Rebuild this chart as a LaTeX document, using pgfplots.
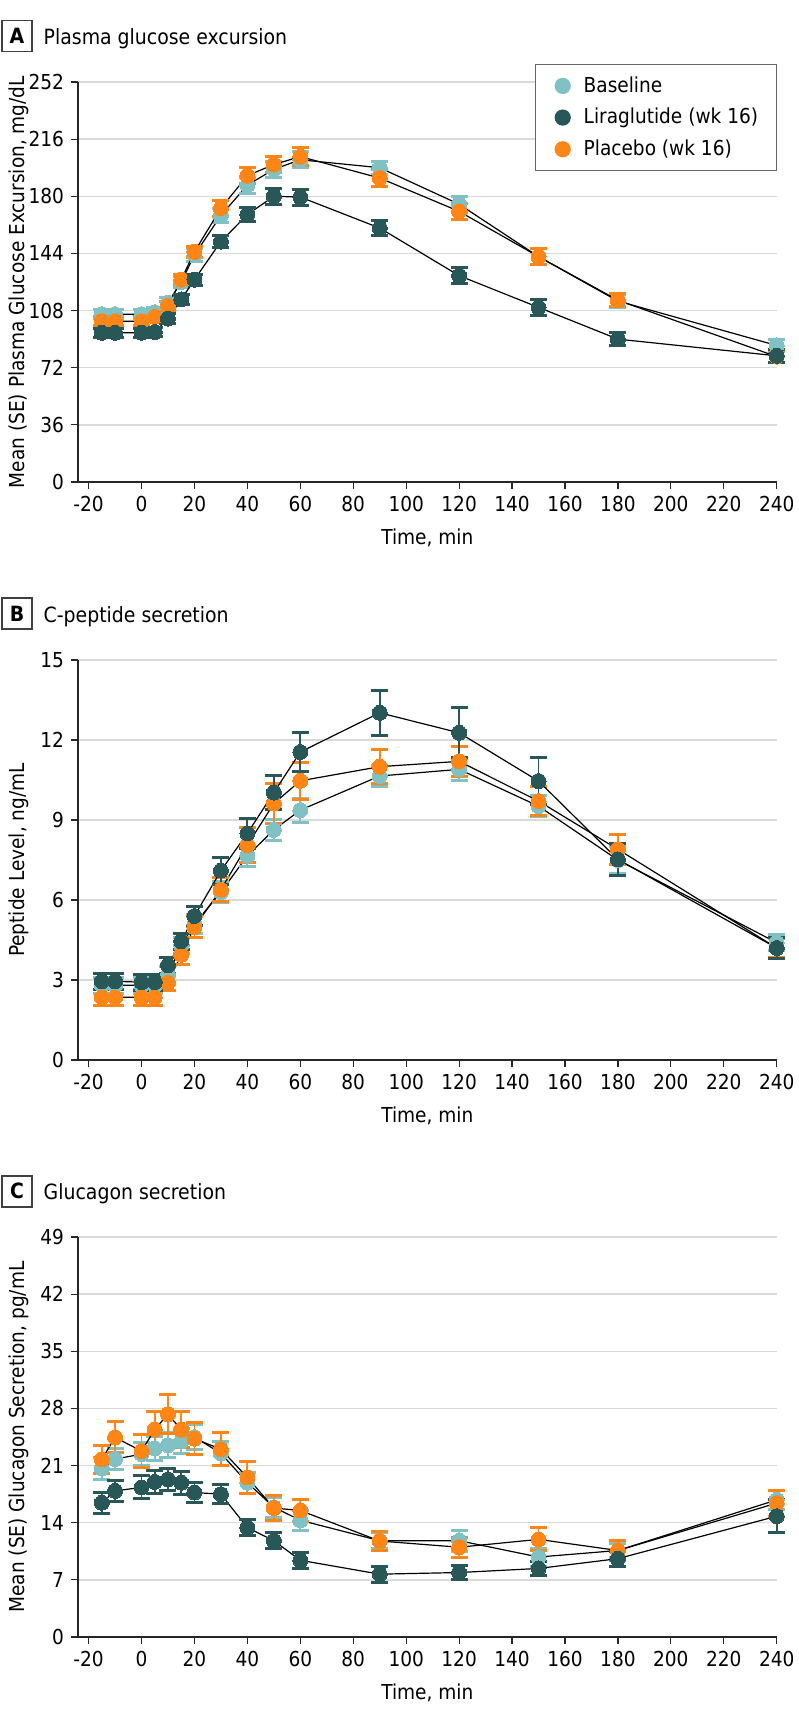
\documentclass[border=0pt]{standalone}
\usepackage{fontspec}
\setmainfont{DejaVu Sans Condensed}
\usepackage{pgfplots}
\pgfplotsset{compat=1.18}
\definecolor{cBase}{RGB}{128,194,196}
\definecolor{cLira}{RGB}{40,87,87}
\definecolor{cPlac}{RGB}{255,133,20}
\definecolor{gridgray}{RGB}{218,218,218}
\newcommand{\fs}{\fontsize{10.3pt}{12pt}\selectfont}
\newcommand{\ft}{\fontsize{10.5pt}{12.5pt}\selectfont}
\pgfplotsset{
 panel/.style={
  scale only axis, width=349.35pt, height=200pt,
  xmin=-24, xmax=240,
  axis x line*=bottom, axis y line*=left,
  axis line style={line width=0.6pt, color=black!85},
  xtick={-20,0,20,40,60,80,100,120,140,160,180,200,220,240},
  xticklabels={-20,0,20,40,60,80,100,120,140,160,180,200,220,240},
  tick align=outside, major tick length=3.5pt,
  tick style={line width=0.6pt, color=black!85},
  ymajorgrids, grid style={line width=0.75pt, color=gridgray},
  tick label style={font=\fs},
  label style={font=\fs},
  xlabel={Time, min},
  x label style={at={(axis description cs:0.5,-0.14)}, anchor=center},
  y label style={at={(axis description cs:-0.085,0.5)}, anchor=center},
  /pgf/number format/assume math mode=true,
  clip=false,
 },
 ser/.style={black, line width=0.6pt, mark=*, mark size=3.75pt,
  mark options={draw=#1, fill=#1, line width=0pt},
  error bars/y dir=both, error bars/y explicit,
  error bars/error bar style={#1, line width=0.9pt},
  error bars/error mark options={#1, rotate=90, mark size=4.25pt, line width=1.5pt},
  forget plot},
}
\begin{document}
\begin{tikzpicture}
\path[use as bounding box] (0,0) rectangle (399pt,-861pt);

% ---------------- Panel A
\begin{axis}[panel, at={(39pt,-241pt)}, anchor=south west,
  ymin=0, ymax=252, ytick={0,36,72,108,144,180,216,252},
  ylabel={Mean (SE) Plasma Glucose Excursion, mg/dL},
  legend style={at={(axis description cs:1.0,1.045)}, anchor=north east,
    draw=black!60, line width=0.6pt, fill=white, font=\fs, row sep=2.5pt,
    inner xsep=7pt, inner ysep=4pt},
  legend image code/.code={\draw[#1] plot coordinates {(6.5pt,0pt)}; \path[draw=none, fill=none] (0pt,0pt) (15pt,0pt);},
  legend cell align=left]
\addlegendimage{only marks, mark=*, mark size=3.75pt, mark options={draw=cBase, fill=cBase}}
\addlegendimage{only marks, mark=*, mark size=3.75pt, mark options={draw=cLira, fill=cLira}}
\addlegendimage{only marks, mark=*, mark size=3.75pt, mark options={draw=cPlac, fill=cPlac}}
\addplot[ser=cBase] table[y error=e] {
x y e
-15 105.7 3
-10 105.7 3
0 105.7 3
5 107 3
10 113 3
15 126 3.5
20 143 4
30 168 4.5
40 187 5
50 197 5
60 203 5
90 198 4
120 175 5
150 142 5
180 114 4
240 86 4
};
\addplot[ser=cPlac] table[y error=e] {
x y e
-15 101.3 3
-10 101.3 3
0 101.3 3
5 104 3
10 111 3
15 127.5 3.5
20 145 3.5
30 172.5 5
40 193 5
50 200 5
60 205 5.5
90 191.5 5.5
120 170.5 5
150 142 5
180 114.5 4
240 79 4
};
\addplot[ser=cLira] table[y error=e] {
x y e
-15 94 3
-10 94 3
0 94 3
5 94.5 3
10 103 3
15 115 3
20 127.5 3.5
30 151.5 4
40 168.5 4.5
50 180 5
60 179.5 5
90 160 5
120 130 5
150 110 5
180 90 4
240 79.5 4
};
\legend{Baseline, Liraglutide (wk 16), Placebo (wk 16)}
\end{axis}

% ---------------- Panel B
\begin{axis}[panel, at={(39pt,-530pt)}, anchor=south west,
  ymin=0, ymax=15, ytick={0,3,6,9,12,15},
  ylabel={Peptide Level, ng/mL}]
\addplot[ser=cBase] table[y error=e] {
x y e
-15 2.8 0.3
-10 2.8 0.3
0 2.8 0.3
5 2.8 0.3
10 3.2 0.3
15 4.3 0.3
20 5.1 0.35
30 6.3 0.4
40 7.66 0.4
50 8.63 0.4
60 9.37 0.45
90 10.65 0.4
120 10.9 0.4
150 9.52 0.4
180 7.5 0.5
240 4.4 0.3
};
\addplot[ser=cPlac] table[y error=e] {
x y e
-15 2.35 0.3
-10 2.35 0.3
0 2.35 0.3
5 2.35 0.3
10 2.9 0.3
15 3.95 0.35
20 4.98 0.4
30 6.39 0.45
40 8.06 0.65
50 9.62 0.75
60 10.47 0.7
90 11.0 0.63
120 11.2 0.55
150 9.71 0.55
180 7.9 0.55
240 4.2 0.35
};
\addplot[ser=cLira] table[y error=e] {
x y e
-15 2.95 0.3
-10 2.95 0.3
0 2.92 0.3
5 2.92 0.3
10 3.55 0.3
15 4.45 0.3
20 5.4 0.35
30 7.1 0.5
40 8.5 0.55
50 10.03 0.65
60 11.55 0.72
90 13.02 0.84
120 12.27 0.94
150 10.46 0.88
180 7.52 0.6
240 4.2 0.4
};
\end{axis}

% ---------------- Panel C
\begin{axis}[panel, at={(39pt,-818.5pt)}, anchor=south west,
  ymin=0, ymax=49, ytick={0,7,14,21,28,35,42,49},
  ylabel={Mean (SE) Glucagon Secretion, pg/mL}]
\addplot[ser=cBase] table[y error=e] {
x y e
-15 20.65 1.3
-10 21.8 1.3
0 22.4 1.4
5 23.1 1.5
10 23.5 1.5
15 24.0 1.5
20 24.5 1.5
30 22.5 1.5
40 18.9 1.3
50 15.9 1.2
60 14.3 1.2
90 11.8 1.0
120 11.8 1.3
150 9.8 1.1
180 10.6 0.9
240 16.8 1.2
};
\addplot[ser=cPlac] table[y error=e] {
x y e
-15 21.76 1.7
-10 24.45 1.9
0 22.78 2
5 25.43 2.2
10 27.3 2.35
15 25.4 2.2
20 24.3 2
30 23.0 2
40 19.55 2
50 15.8 1.5
60 15.5 1.4
90 11.76 1.2
120 11.0 1.2
150 11.96 1.4
180 10.6 1.2
240 16.4 1.6
};
\addplot[ser=cLira] table[y error=e] {
x y e
-15 16.45 1.3
-10 17.9 1.3
0 18.33 1.4
5 19.0 1.4
10 19.3 1.4
15 18.9 1.4
20 17.7 1.2
30 17.5 1.2
40 13.4 1.0
50 11.8 1.0
60 9.4 1.0
90 7.7 1.0
120 7.9 0.9
150 8.4 0.9
180 9.6 0.9
240 14.8 2
};
\end{axis}

% ---------------- Panel titles
\node[draw=black!75, line width=0.75pt, minimum width=15pt, minimum height=15.5pt, inner sep=0pt, font=\ft\bfseries] at (8.5pt,-18.1pt) {A};
\node[anchor=base west, font=\ft, inner sep=0pt] at (21.65pt,-22.3pt) {Plasma glucose excursion};
\node[draw=black!75, line width=0.75pt, minimum width=15pt, minimum height=15.5pt, inner sep=0pt, font=\ft\bfseries] at (8.5pt,-306.8pt) {B};
\node[anchor=base west, font=\ft, inner sep=0pt] at (21.65pt,-311pt) {C-peptide secretion};
\node[draw=black!75, line width=0.75pt, minimum width=15pt, minimum height=15.5pt, inner sep=0pt, font=\ft\bfseries] at (8.5pt,-595.65pt) {C};
\node[anchor=base west, font=\ft, inner sep=0pt] at (21.65pt,-599.85pt) {Glucagon secretion};
\end{tikzpicture}
\end{document}
